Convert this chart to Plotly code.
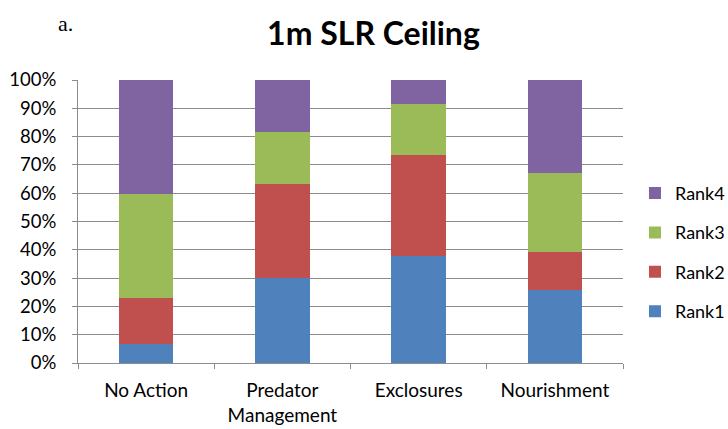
import plotly.graph_objects as go

categories = ["No Action", "Predator<br>Management", "Exclosures", "Nourishment"]
rank1 = [6.7, 30.0, 37.7, 25.7]
rank2 = [16.3, 33.4, 35.8, 13.5]
rank3 = [36.7, 18.1, 18.1, 28.1]
rank4 = [40.3, 18.5, 8.4, 32.7]
series_names = ["Rank1", "Rank2", "Rank3", "Rank4"]
series_colors = ["#4F81BD", "#C0504D", "#9BBB59", "#8064A2"]
tick_vals = [0, 10, 20, 30, 40, 50, 60, 70, 80, 90, 100]
tick_text = [f"{v}%" for v in tick_vals]

FONT = "Lato, Open Sans, sans-serif"

fig = go.Figure()
for i, (name, vals, col) in enumerate(zip(series_names, [rank1, rank2, rank3, rank4], series_colors)):
    fig.add_trace(go.Bar(
        x=categories, y=vals, name=name, marker_color=col,
        marker_line_width=0, legendgroup=name,
        legendrank=len(series_names) - i,
    ))

fig.update_layout(
    barmode="stack",
    bargap=0.6,
    width=728, height=429,
    margin=dict(l=78, r=105, t=80, b=66, autoexpand=False),
    paper_bgcolor="white", plot_bgcolor="white",
    font=dict(family=FONT, size=18, color="#000000"),
    title=dict(
        text="<b>1m SLR Ceiling</b>",
        x=0.513, xanchor="center", y=0.922, yanchor="middle",
        font=dict(family=FONT, size=32, color="#000000"),
    ),
    legend=dict(
        traceorder="grouped", tracegroupgap=13,
        x=1.022, xanchor="left", y=0.665, yanchor="top",
        font=dict(family=FONT, size=18),
        bgcolor="rgba(0,0,0,0)",
    ),
    annotations=[dict(
        text="a.", xref="paper", yref="paper",
        x=-0.04, y=1.2, xanchor="left", yanchor="middle",
        showarrow=False, font=dict(family="Liberation Serif, Times New Roman, serif", size=22),
    )],
)

fig.update_yaxes(
    range=[0, 100], tickvals=tick_vals, ticktext=tick_text,
    showgrid=True, gridcolor="#8c8c8c", gridwidth=1,
    showline=True, linecolor="#8c8c8c", linewidth=1,
    ticks="outside", ticklen=5, tickcolor="#8c8c8c",
    ticklabelstandoff=12, zeroline=False,
    tickfont=dict(family=FONT, size=18.5),
)
fig.update_xaxes(
    showline=True, linecolor="#8c8c8c", linewidth=1,
    ticks="outside", tickson="boundaries", ticklen=5, tickcolor="#8c8c8c",
    ticklabelstandoff=10,
    tickfont=dict(family=FONT, size=19),
)

fig.write_html("out.html")
